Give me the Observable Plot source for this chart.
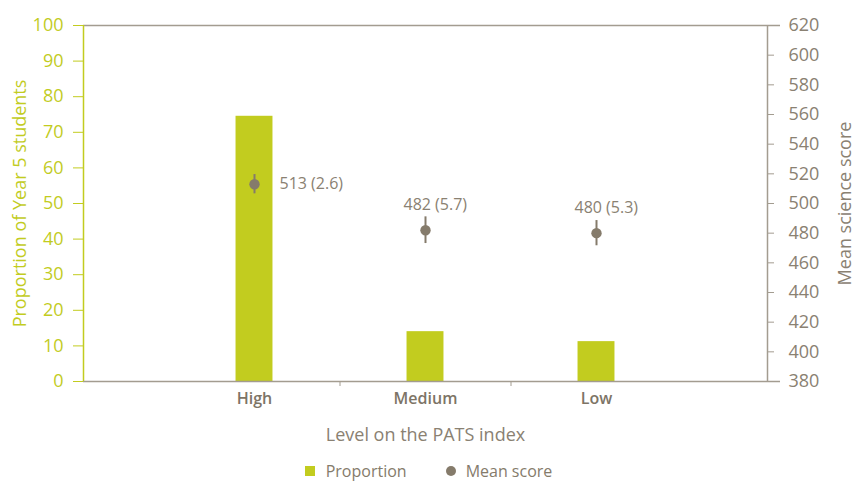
<!DOCTYPE html>
<html>
<head>
<meta charset="utf-8">
<script src="https://cdn.jsdelivr.net/npm/d3@7"></script>
<script src="https://cdn.jsdelivr.net/npm/@observablehq/plot@0.6"></script>
<style>
  body { margin: 0; background: #fff; font-family: "Open Sans", sans-serif; overflow: hidden; }
  #chart svg { display: block; }
  .legend { display: flex; justify-content: center; align-items: center; height: 22px; line-height: 20px; font-size: 16px; color: #857b6b; }
  .legend .item { display: flex; align-items: center; }
  .legend .sw { width: 10px; height: 10px; background: #c2cc1f; margin-right: 11px; }
  .legend .dt { width: 10px; height: 10px; border-radius: 50%; background: #857b6b; margin-right: 10px; }
</style>
</head>
<body>
<div id="chart"></div>
<div class="legend">
  <div class="item" style="margin-right:39px"><div class="sw"></div><span>Proportion</span></div>
  <div class="item"><div class="dt"></div><span>Mean score</span></div>
</div>
<script>
const categories = ["High", "Medium", "Low"];
const proportion = [74.5, 14.0, 11.2];
const meanScore = [513, 482, 480];
const scoreSE = [2.6, 5.7, 5.3];
const ciLow = [506.5, 473, 471.5];
const ciHigh = [519.5, 491, 488.5];
const leftTicks = [0, 10, 20, 30, 40, 50, 60, 70, 80, 90, 100];
const rightTicks = [380, 400, 420, 440, 460, 480, 500, 520, 540, 560, 580, 600, 620];

const GREEN = "#c2cc1f";
const BROWN = "#857b6b";
const AXIS = "#a39c90";
const TEXT = "#8a8172";

const sMin = 380, sMax = 620;
const toP = s => (s - sMin) / (sMax - sMin) * 100;
const fromP = p => Math.round(sMin + p / 100 * (sMax - sMin));

const data = categories.map((c, i) => ({
  cat: c, idx: i + 1, prop: proportion[i], score: meanScore[i], se: scoreSE[i],
  lo: ciLow[i], hi: ciHigh[i], label: `${meanScore[i]} (${scoreSE[i]})`
}));
const halfBar = 0.108;

const plot = Plot.plot({
  width: 857,
  height: 460,
  marginLeft: 83,
  marginRight: 90,
  marginTop: 25,
  marginBottom: 79,
  style: { fontFamily: "'Open Sans', sans-serif", background: "#fff" },
  x: { type: "linear", domain: [0, categories.length + 1], axis: null },
  y: { domain: [0, 100], axis: null },
  marks: [
    Plot.rectY(data, { x1: d => d.idx - halfBar, x2: d => d.idx + halfBar, y: "prop", fill: GREEN }),
    Plot.ruleY([100], { stroke: AXIS, strokeWidth: 1.5, insetRight: -13 }),
    Plot.ruleY([0], { stroke: AXIS, strokeWidth: 1.5, insetRight: -13 }),
    Plot.ruleX([0], { stroke: GREEN, strokeWidth: 1.5 }),
    Plot.ruleX([categories.length + 1], { stroke: AXIS, strokeWidth: 1.5 }),
    Plot.axisY(leftTicks, { anchor: "left", label: null, tickSize: 10, tickPadding: 10, stroke: GREEN, fill: GREEN, fontSize: 18 }),
    Plot.axisY(rightTicks.map(toP), { anchor: "right", label: null, tickSize: 6, tickPadding: 15, stroke: AXIS, fill: TEXT, fontSize: 18, tickFormat: p => fromP(p) }),
    Plot.axisX(data.map(d => d.idx), { anchor: "bottom", label: null, tickSize: 0, tickPadding: 11, fill: "#7d7466", fontSize: 16, fontWeight: 600, tickFormat: i => categories[i - 1] }),
    Plot.axisX(data.slice(1).map(d => d.idx - 0.5), { anchor: "bottom", label: null, tickSize: 5, stroke: AXIS, tickFormat: () => "" }),
    Plot.ruleX(data, { x: "idx", y1: d => toP(d.lo), y2: d => toP(d.hi), stroke: BROWN, strokeWidth: 2 }),
    Plot.dot(data, { x: "idx", y: d => toP(d.score), r: 5.2, fill: BROWN }),
    Plot.text(data.filter(d => d.idx === 1), { x: "idx", y: d => toP(d.score), text: "label", textAnchor: "start", dx: 25, fill: TEXT, fontSize: 16 }),
    Plot.text(data.filter(d => d.idx !== 1), { x: "idx", y: d => toP(d.score), text: "label", textAnchor: "start", dx: -22, dy: -25, fill: TEXT, fontSize: 16 }),
    Plot.text(["Level on the PATS index"], { frameAnchor: "bottom", dy: 59, fill: TEXT, fontSize: 18 }),
    Plot.text(["Proportion of Year 5 students"], { frameAnchor: "left", textAnchor: "middle", dx: -63, rotate: -90, fill: GREEN, fontSize: 18 }),
    Plot.text(["Mean science score"], { frameAnchor: "right", textAnchor: "middle", dx: 78, rotate: -90, fill: TEXT, fontSize: 18 })
  ]
});
document.getElementById("chart").appendChild(plot);
</script>
</body>
</html>
